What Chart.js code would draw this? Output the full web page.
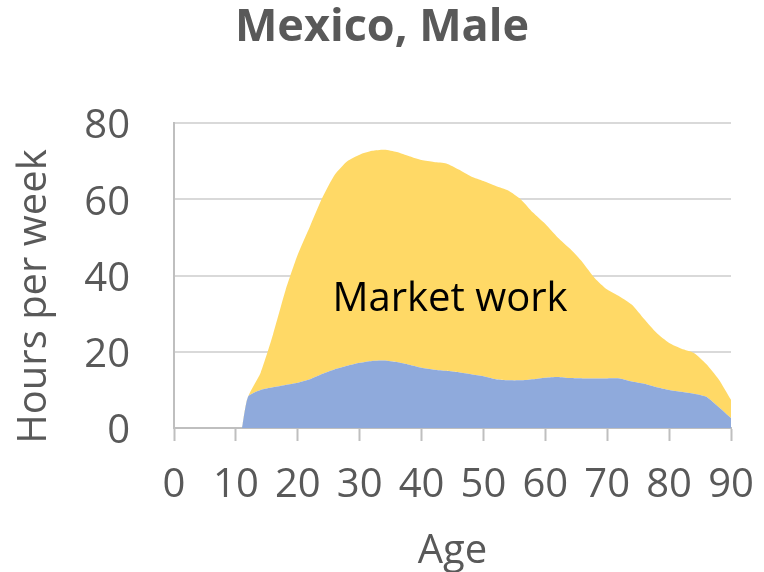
<!DOCTYPE html>
<html>
<head>
<meta charset="utf-8">
<script src="https://cdn.jsdelivr.net/npm/chart.js@4/dist/chart.umd.min.js"></script>
<style>
html,body{margin:0;padding:0;background:#fff;}
#wrap{width:764px;height:572px;}
</style>
</head>
<body>
<div id="wrap"><canvas id="c" width="764" height="572"></canvas></div>
<script>
const chartTitle = 'Mexico, Male';
const xTitle = 'Age';
const yTitle = 'Hours per week';
const areaLabel = 'Market work';
const ages = [11,12,14,16,18,20,22,24,26,28,30,32,34,36,38,40,42,44,46,48,50,52,54,56,58,60,62,64,66,68,70,72,74,76,78,80,82,84,86,88,90];
const totalHours = [0,8.3,14.5,24.5,36,45.5,53,60.5,66.5,70,71.7,72.7,73,72.4,71.3,70.3,69.8,69.4,67.8,66,64.8,63.5,62.3,60,56.5,53.5,50,47,43.5,39.3,36.3,34.5,32.3,28.5,24.9,22.3,20.8,19.7,16.8,12.8,7.4];
const otherWork = [0,8.3,10,10.7,11.3,11.9,12.8,14.2,15.4,16.3,17.1,17.6,17.7,17.3,16.6,15.8,15.3,15,14.6,14.1,13.6,12.8,12.5,12.5,12.8,13.2,13.4,13.1,13,13,13,13,12.2,11.6,10.7,10,9.5,9,8.2,5.5,2.6];
const marketWork = totalHours.map((t, i) => +(t - otherWork[i]).toFixed(1));
const xTicks = [0,10,20,30,40,50,60,70,80,90];
const yTicks = [0,20,40,60,80];
const labelAt = {age: 44.6, hours: 34.2};

const FONT = "'Open Sans', 'Noto Sans', sans-serif";
const GREY = '#595959';

const labelPlugin = {
  id: 'areaLabel',
  afterDatasetsDraw(chart) {
    const {ctx, scales, chartArea} = chart;
    const x = scales.x.getPixelForValue(labelAt.age);
    const y = scales.y.getPixelForValue(labelAt.hours);
    ctx.save();
    ctx.font = "40px " + FONT;
    ctx.fillStyle = '#000';
    ctx.textAlign = 'center';
    ctx.textBaseline = 'middle';
    ctx.fillText(areaLabel, x, y + 2);
    ctx.restore();
    // y axis title, drawn slightly below the plot centre as in the reference
    ctx.save();
    ctx.font = "40px " + FONT;
    ctx.fillStyle = GREY;
    ctx.textAlign = 'center';
    ctx.textBaseline = 'middle';
    ctx.translate(35, (chartArea.top + chartArea.bottom) / 2 + 21);
    ctx.rotate(-Math.PI / 2);
    ctx.fillText(yTitle, 0, 0);
    ctx.restore();
  }
};

new Chart(document.getElementById('c'), {
  type: 'line',
  data: {
    datasets: [
      {
        label: 'Other work',
        data: ages.map((a, i) => ({x: a, y: otherWork[i]})),
        backgroundColor: '#8FAADC',
        borderWidth: 0,
        pointRadius: 0,
        fill: 'origin',
        tension: 0.2
      },
      {
        label: areaLabel,
        data: ages.map((a, i) => ({x: a, y: marketWork[i]})),
        backgroundColor: '#FFD966',
        borderWidth: 0,
        pointRadius: 0,
        fill: '-1',
        tension: 0.2
      }
    ]
  },
  options: {
    responsive: false,
    animation: false,
    layout: {padding: {left: 0, right: 0, top: 0, bottom: 0}},
    plugins: {
      legend: {display: false},
      tooltip: {enabled: false},
      title: {
        display: true,
        text: chartTitle,
        color: GREY,
        font: {family: FONT, size: 45, weight: 'bold', lineHeight: 1.2},
        padding: {top: 1, bottom: 68}
      }
    },
    scales: {
      x: {
        type: 'linear',
        min: 0, max: 90,
        afterBuildTicks: s => { s.ticks = xTicks.map(v => ({value: v})); },
        afterFit: s => { s.height = 144; s.paddingLeft = 0; s.paddingRight = 33; },
        grid: {drawOnChartArea: false, drawTicks: true, tickLength: 13, tickColor: '#BFBFBF', tickWidth: 2},
        border: {color: '#BFBFBF', width: 2},
        ticks: {color: GREY, font: {family: FONT, size: 40}, padding: 21, maxRotation: 0, autoSkip: false},
        title: {display: true, text: xTitle, color: GREY, font: {family: FONT, size: 40, lineHeight: 1.0}, padding: {top: 0, bottom: 0}}
      },
      y: {
        stacked: true,
        min: 0, max: 80,
        afterBuildTicks: s => { s.ticks = yTicks.map(v => ({value: v})); },
        afterFit: s => { s.width = 174; },
        grid: {color: '#D9D9D9', lineWidth: 2, drawTicks: false},
        border: {color: '#BFBFBF', width: 2},
        ticks: {color: GREY, font: {family: FONT, size: 40}, padding: 44, labelOffset: 4},
        title: {display: false}
      }
    }
  },
  plugins: [labelPlugin]
});
</script>
</body>
</html>
